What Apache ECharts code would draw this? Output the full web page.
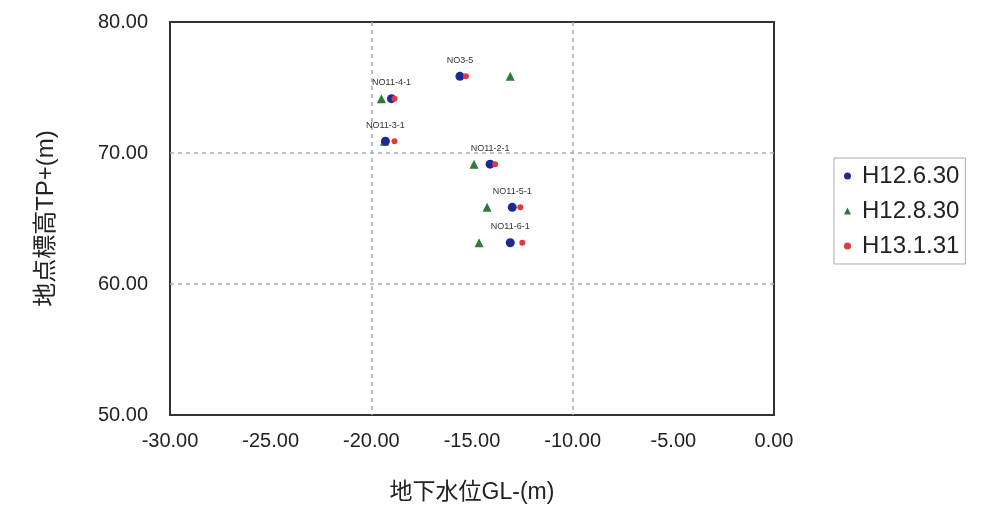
<!DOCTYPE html>
<html>
<head>
<meta charset="utf-8">
<script src="https://cdn.jsdelivr.net/npm/echarts@6/dist/echarts.min.js"></script>
<style>
html,body{margin:0;padding:0;background:#fff;}
#main{width:1002px;height:511px;}
</style>
</head>
<body>
<div id="main"></div>
<script>
// 観測地点
var points = ['NO3-5', 'NO11-4-1', 'NO11-3-1', 'NO11-2-1', 'NO11-5-1', 'NO11-6-1'];
// 地点標高TP+(m)
var elev = [75.85, 74.15, 70.9, 69.15, 65.85, 63.15];
// 地下水位GL-(m)  H12.6.30 / H12.8.30 / H13.1.31
var gw_h1206 = [-15.6, -19.0, -19.3, -14.1, -13.0, -13.1];
var gw_h1208 = [-13.1, -19.5, -19.35, -14.9, -14.25, -14.65];
var gw_h1301 = [-15.3, -18.85, -18.85, -13.85, -12.6, -12.5];
var seriesNames = ['H12.6.30', 'H12.8.30', 'H13.1.31'];
var xTicks = [-30, -25, -20, -15, -10, -5, 0];
var yTicks = [50, 60, 70, 80];

var font = '"Liberation Sans", "Noto Sans CJK JP", sans-serif';
var grid_line = { show: true, showMinLine: false, showMaxLine: false,
	lineStyle: { color: '#aaa', type: [4, 4], width: 1.5 } };

function pairs(xs) {
	return xs.map(function (x, i) { return [x, elev[i], points[i]]; });
}

var chart = echarts.init(document.getElementById('main'));
var option = {
	animation: false,
	grid: {
		left: 170, right: 228, top: 22, bottom: 96,
		show: true, borderColor: '#333', borderWidth: 2
	},
	legend: {
		orient: 'vertical',
		left: 834, top: 158,
		itemGap: 11, itemWidth: 7, itemHeight: 7,
		padding: [6, 6, 6, 10],
		borderColor: '#aaa', borderWidth: 1,
		textStyle: { fontFamily: font, fontSize: 24, color: '#222', padding: [0, 0, 0, 6] },
		data: seriesNames
	},
	xAxis: [{
		type: 'value',
		min: xTicks[0], max: xTicks[xTicks.length - 1], interval: 5,
		name: '地下水位GL-(m)',
		nameLocation: 'middle', nameGap: 66,
		nameTextStyle: { fontFamily: font, fontSize: 23, color: '#222' },
		axisLine: { show: false },
		axisTick: { show: false },
		splitLine: { show: false },
		axisLabel: {
			fontFamily: font, fontSize: 20, color: '#222', margin: 16,
			formatter: function (v) { return v.toFixed(2); }
		}
	}, {
		type: 'value',
		min: xTicks[0], max: xTicks[xTicks.length - 1], interval: 10,
		position: 'bottom',
		axisLine: { show: false },
		axisTick: { show: false },
		axisLabel: { show: false },
		splitLine: grid_line
	}],
	yAxis: {
		type: 'value',
		min: yTicks[0], max: yTicks[yTicks.length - 1], interval: 10,
		name: '地点標高TP+(m)',
		nameLocation: 'middle', nameGap: 112,
		nameTextStyle: { fontFamily: font, fontSize: 24, color: '#222' },
		axisLine: { show: false },
		axisTick: { show: false },
		splitLine: grid_line,
		axisLabel: {
			fontFamily: font, fontSize: 20, color: '#222', margin: 22,
			formatter: function (v) { return v.toFixed(2); }
		}
	},
	series: [{
		name: seriesNames[1],
		type: 'scatter',
		symbol: 'triangle', symbolSize: 9,
		itemStyle: { color: '#2f7a3a', opacity: 1 },
		data: pairs(gw_h1208)
	}, {
		name: seriesNames[0],
		type: 'scatter',
		symbol: 'circle', symbolSize: 9,
		itemStyle: { color: '#1c2a96', opacity: 1 },
		label: {
			show: true, position: 'top', distance: 7,
			fontFamily: font, fontSize: 9, color: '#333',
			formatter: function (p) { return p.data[2]; }
		},
		data: pairs(gw_h1206)
	}, {
		name: seriesNames[2],
		type: 'scatter',
		symbol: 'circle', symbolSize: 6,
		itemStyle: { color: '#e23a3a', opacity: 1 },
		data: pairs(gw_h1301)
	}]
};
chart.setOption(option);
</script>
</body>
</html>
